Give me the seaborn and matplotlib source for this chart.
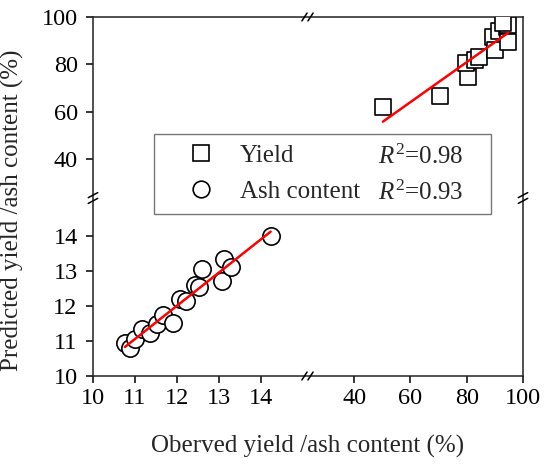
"""
Observed vs predicted yield / ash content (broken axes)
"""

import numpy as np
import pandas as pd
import seaborn as sns
import matplotlib.pyplot as plt
from matplotlib.lines import Line2D

# ------------------------------
# Data
# ------------------------------
ash_obs = [10.76, 10.88, 11.00, 11.16, 11.36, 11.52, 11.67, 11.91, 12.07,
           12.21, 12.43, 12.53, 12.59, 13.06, 13.12, 13.28, 14.23]
ash_pred = [10.93, 10.80, 11.06, 11.35, 11.23, 11.50, 11.73, 11.52, 12.19,
            12.14, 12.59, 12.55, 13.06, 12.71, 13.35, 13.11, 13.99]

yield_obs = [50.2, 70.6, 80.3, 79.8, 83.0, 84.5, 89.5, 90.1, 91.3,
             94.2, 94.8, 94.8, 93.0]
yield_pred = [61.8, 66.6, 74.5, 80.7, 81.8, 82.9, 91.4, 86.0, 94.2,
              95.9, 89.6, 96.6, 97.3]

r2_labels = ["$R^2$=0.98", "$R^2$=0.93"]
series_names = ["Yield", "Ash content"]

x_ticks = [10, 11, 12, 13, 14, 40, 60, 80, 100]
y_ticks = [10, 11, 12, 13, 14, 40, 60, 80, 100]

ash = pd.DataFrame({"obs": ash_obs, "pred": ash_pred})
yld = pd.DataFrame({"obs": yield_obs, "pred": yield_pred})

# ------------------------------
# Broken-axis scale (piecewise linear)
# ------------------------------
X_BP, X_PX = [10, 15, 25, 100], [0, 210, 219, 430]
Y_BP, Y_PX = [10, 15, 25, 100], [0, 175, 181.5, 359]


def piecewise(bp, px):
    bp, px = np.asarray(bp, float), np.asarray(px, float)

    def f(v):
        v = np.asarray(v, float)
        out = np.interp(v, bp, px)
        out = np.where(v < bp[0], px[0] + (v - bp[0]) * (px[1] - px[0]) / (bp[1] - bp[0]), out)
        out = np.where(v > bp[-1], px[-1] + (v - bp[-1]) * (px[-1] - px[-2]) / (bp[-1] - bp[-2]), out)
        return out
    return f


# ------------------------------
# Style
# ------------------------------
sns.set_style("ticks")
plt.rcParams["font.family"] = ["Liberation Serif", "DejaVu Serif"]
plt.rcParams["mathtext.fontset"] = "custom"
plt.rcParams["mathtext.rm"] = "Liberation Serif"
plt.rcParams["mathtext.it"] = "Liberation Serif:italic"
plt.rcParams["axes.linewidth"] = 1.1
plt.rcParams["axes.edgecolor"] = "#222222"

fig = plt.figure(figsize=(5.5, 4.67), dpi=100)
ax = fig.add_axes([93 / 550, 1 - 376 / 467, 430 / 550, 359 / 467])
ax.set_xscale("function", functions=(piecewise(X_BP, X_PX), piecewise(X_PX, X_BP)))
ax.set_yscale("function", functions=(piecewise(Y_BP, Y_PX), piecewise(Y_PX, Y_BP)))

# ------------------------------
# Points + fitted lines
# ------------------------------
mk = dict(facecolor="white", edgecolor="black", linewidth=1.2, zorder=3, legend=False)
sns.scatterplot(data=yld, x="obs", y="pred", marker="s", s=135, ax=ax, **mk)
sns.scatterplot(data=ash, x="obs", y="pred", marker="o", s=155, ax=ax, **mk)

line_kw = dict(scatter=False, ci=None, color="red", line_kws={"lw": 1.8, "zorder": 4})
sns.regplot(data=yld, x="obs", y="pred", ax=ax, **line_kw)
sns.regplot(data=ash, x="obs", y="pred", ax=ax, **line_kw)

ax.set_xlim(10, 100)
ax.set_ylim(10, 100)
ax.set_xticks(x_ticks)
ax.set_yticks(y_ticks)
ax.set_xticklabels([str(t) for t in x_ticks])
ax.set_yticklabels([str(t) for t in y_ticks])
ax.xaxis.set_minor_locator(plt.NullLocator())
ax.yaxis.set_minor_locator(plt.NullLocator())
ax.tick_params(direction="out", length=5, width=1.1, labelsize=17.5, colors="black")
ax.tick_params(axis="x", pad=4)
ax.tick_params(axis="y", pad=6)

ax.set_xlabel("Oberved yield /ash content (%)", fontsize=18)
ax.set_ylabel("Predicted yield /ash content (%)", fontsize=18)
ax.xaxis.set_label_coords(0.5, -0.165)
ax.yaxis.set_label_coords(-0.16, 0.462)

# ------------------------------
# Break marks
# ------------------------------
bx = 214.5 / 430
by = 178 / 359
for yb in (0, 1):
    for dx in (-0.007, 0.007):
        ax.plot([bx + dx - 0.006, bx + dx + 0.006], [yb - 0.011, yb + 0.011],
                transform=ax.transAxes, color="black", lw=1.1, clip_on=False, zorder=5)
for xb in (0, 1):
    for dy in (-0.008, 0.008):
        ax.plot([xb - 0.011, xb + 0.011], [by + dy - 0.007, by + dy + 0.007],
                transform=ax.transAxes, color="black", lw=1.1, clip_on=False, zorder=5)

# ------------------------------
# Legend
# ------------------------------
h_sq = Line2D([], [], ls="none", marker="s", ms=11.5, mfc="white", mec="black", mew=1.2)
h_ci = Line2D([], [], ls="none", marker="o", ms=12, mfc="white", mec="black", mew=1.2)
leg = ax.legend([h_sq, h_ci], series_names, loc="upper left", mode="expand",
                bbox_to_anchor=(0.142, 0.462, 0.784, 0.212), fontsize=18,
                frameon=True, fancybox=False, edgecolor="#777777", framealpha=1,
                handlelength=2.9, handletextpad=0.1, labelspacing=0.54,
                borderpad=0.42, borderaxespad=0)
leg.get_frame().set_linewidth(1.0)
leg.set_zorder(6)

for lab, yy in zip(r2_labels, [(376 - 157) / 359, (376 - 193) / 359]):
    ax.text((378 - 93) / 430, yy, lab, transform=ax.transAxes, fontsize=18,
            va="center", ha="left", zorder=7)

plt.savefig("out.png", dpi=100)
